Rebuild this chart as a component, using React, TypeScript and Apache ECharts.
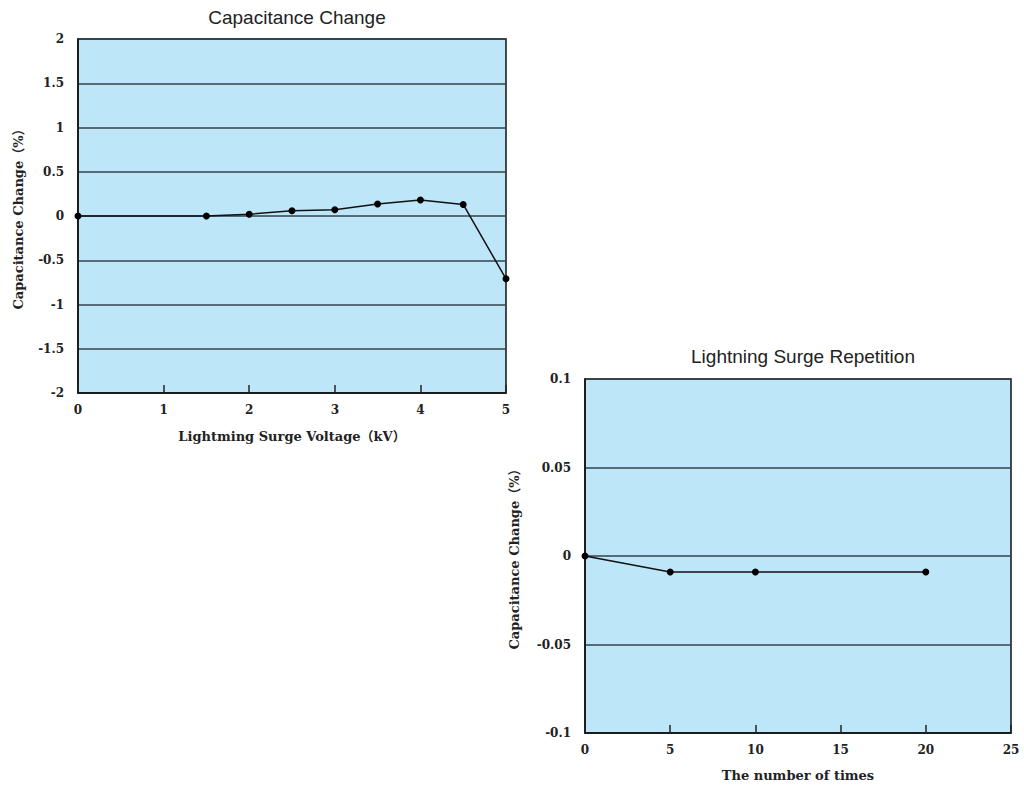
import React, { useEffect, useRef } from "react";
import * as echarts from "echarts";

// Chart 1: Capacitance Change vs lightning surge voltage
const voltageKV = [0, 1.5, 2, 2.5, 3, 3.5, 4, 4.5, 5];
const capChangeVoltage = [0, 0, 0.02, 0.06, 0.07, 0.135, 0.18, 0.13, -0.71];

// Chart 2: Capacitance Change vs number of repetitions
const repetitions = [0, 5, 10, 20];
const capChangeRepetition = [0, -0.009, -0.009, -0.009];

const title1 = "Capacitance Change";
const title2 = "Lightning Surge Repetition";
const yName = "Capacitance Change（%）";
const xName1 = "Lightming Surge Voltage（kV）";
const xName2 = "The number of times";

const serif = "'DejaVu Serif', 'Liberation Serif', 'Noto Sans CJK JP', serif";
const sans = "'Liberation Sans', Arial, sans-serif";
const plotBg = "#bee6f9";
const gridLineColor = "#33444c";

function makeX(gridIndex: number, min: number, max: number, interval: number, name: string, gap: number) {
  return {
    type: "value",
    gridIndex,
    min,
    max,
    interval,
    name,
    nameLocation: "middle",
    nameGap: gap,
    nameTextStyle: { fontFamily: serif, fontWeight: "bold", fontSize: 13, color: "#222" },
    axisLine: { show: true, onZero: false, lineStyle: { color: "#111", width: 1.5 } },
    axisTick: { show: true, inside: true, length: 8, lineStyle: { color: "#222", width: 1.5 } },
    axisLabel: { fontFamily: serif, fontWeight: "bold", fontSize: 12, color: "#222", margin: 11 },
    splitLine: { show: false },
  };
}

function makeY(gridIndex: number, min: number, max: number, interval: number, gap: number) {
  return {
    type: "value",
    gridIndex,
    min,
    max,
    interval,
    name: yName,
    nameLocation: "middle",
    nameGap: gap,
    nameRotate: 90,
    nameTextStyle: { fontFamily: serif, fontWeight: "bold", fontSize: 13, color: "#222" },
    axisLine: { show: true, onZero: false, lineStyle: { color: "#111", width: 1.5 } },
    axisTick: { show: false },
    axisLabel: { fontFamily: serif, fontWeight: "bold", fontSize: 12, color: "#222", margin: 14 },
    splitLine: { show: true, lineStyle: { color: gridLineColor, width: 1.5 } },
  };
}

export default function App() {
  const ref = useRef<HTMLDivElement>(null);
  useEffect(() => {
    if (!ref.current) return;
    const chart = echarts.init(ref.current, null, { renderer: "svg" });
    chart.setOption({
      animation: false,
      backgroundColor: "#ffffff",
      title: [
        {
          text: title1,
          left: 292,
          top: 3,
          textAlign: "center",
          textStyle: { fontFamily: sans, fontWeight: "normal", fontSize: 19, color: "#222" },
        },
        {
          text: title2,
          left: 798,
          top: 342,
          textAlign: "center",
          textStyle: { fontFamily: sans, fontWeight: "normal", fontSize: 19, color: "#222" },
        },
      ],
      grid: [
        {
          left: 78,
          top: 39,
          width: 428,
          height: 354,
          show: true,
          backgroundColor: plotBg,
          borderColor: "#111",
          borderWidth: 1.5,
        },
        {
          left: 585,
          top: 379,
          width: 426,
          height: 354,
          show: true,
          backgroundColor: plotBg,
          borderColor: "#111",
          borderWidth: 1.5,
        },
      ],
      xAxis: [makeX(0, 0, 5, 1, xName1, 37), makeX(1, 0, 25, 5, xName2, 36)],
      yAxis: [makeY(0, -2, 2, 0.5, 53), makeY(1, -0.1, 0.1, 0.05, 64)],
      series: [
        {
          type: "line",
          xAxisIndex: 0,
          yAxisIndex: 0,
          data: voltageKV.map((v, i) => [v, capChangeVoltage[i]]),
          symbol: "circle",
          symbolSize: 7,
          itemStyle: { color: "#000" },
          lineStyle: { color: "#111", width: 1.5 },
        },
        {
          type: "line",
          xAxisIndex: 1,
          yAxisIndex: 1,
          data: repetitions.map((v, i) => [v, capChangeRepetition[i]]),
          symbol: "circle",
          symbolSize: 7,
          itemStyle: { color: "#000" },
          lineStyle: { color: "#111", width: 1.5 },
        },
      ],
    });
    return () => chart.dispose();
  }, []);
  return (
    <div
      ref={ref}
      style={{ position: "fixed", left: 0, top: 0, width: 1024, height: 790 }}
    />
  );
}
